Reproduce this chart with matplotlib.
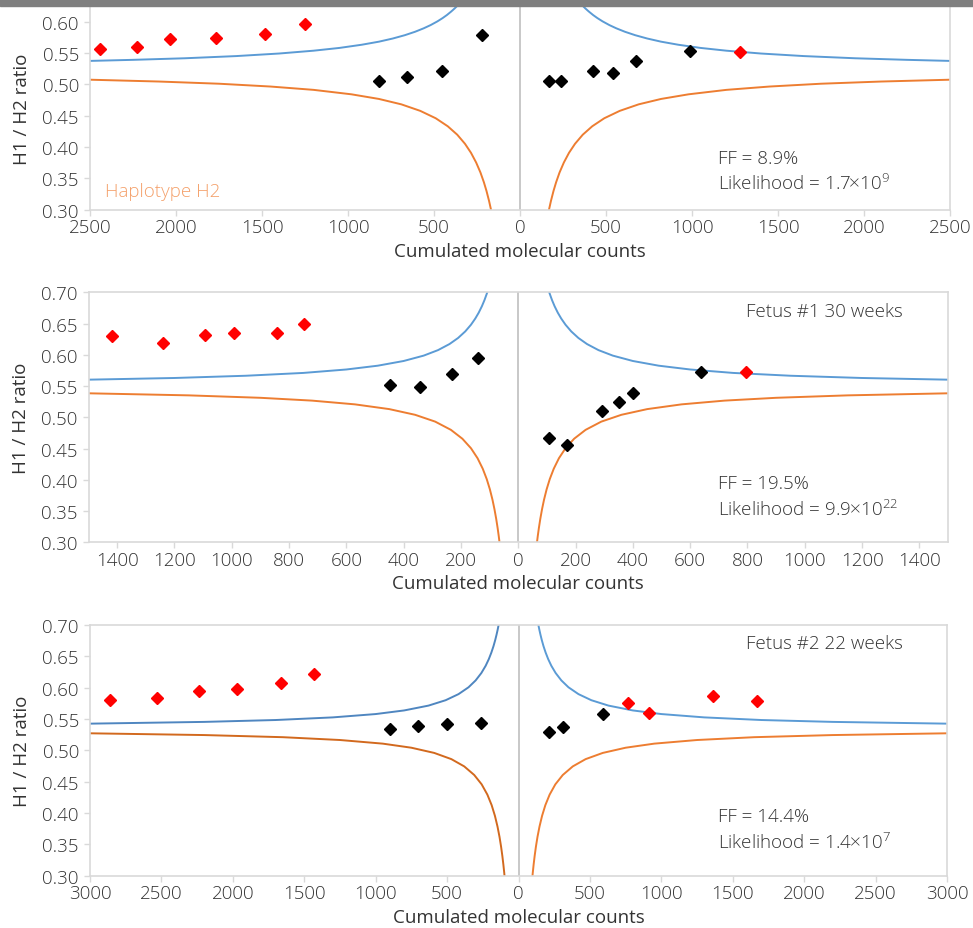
import matplotlib
matplotlib.use("Agg")
import matplotlib.pyplot as plt
from matplotlib.patches import Rectangle
from matplotlib.ticker import FuncFormatter, MultipleLocator

plt.rcParams['font.family'] = ['Open Sans', 'DejaVu Sans']
plt.rcParams['font.weight'] = 'light'
plt.rcParams['mathtext.fontset'] = 'custom'
plt.rcParams['mathtext.rm'] = 'Open Sans:light'
plt.rcParams['mathtext.it'] = 'Open Sans:light'

# ---------------- data ----------------
# Panel 1 (FF 8.9%)
p1_red_x = [-2441, -2229, -2032, -1765, -1481, -1251, 1279]
p1_red_y = [0.556, 0.560, 0.573, 0.574, 0.581, 0.597, 0.551]
p1_black_x = [-821, -659, -454, -222, 170, 239, 425, 543, 676, 991]
p1_black_y = [0.506, 0.512, 0.522, 0.579, 0.505, 0.505, 0.522, 0.518, 0.537, 0.553]
p1_upper_n = [362, 380, 400, 425, 450, 480, 520, 560, 610, 670, 740, 820, 920, 1050,
              1200, 1400, 1650, 1950, 2250, 2500]
p1_upper_v = [0.626, 0.6211, 0.6162, 0.6106, 0.6057, 0.6005, 0.5945, 0.5894, 0.5839,
              0.5784, 0.5731, 0.5681, 0.5632, 0.5581, 0.5537, 0.5492, 0.5451, 0.5416,
              0.5391, 0.5374]
p1_lower_n = [160, 170, 180, 195, 210, 230, 255, 285, 320, 365, 420, 490, 580, 690, 820,
              980, 1200, 1450, 1750, 2100, 2500]
p1_lower_v = [0.288, 0.3018, 0.3141, 0.3301, 0.3438, 0.3594, 0.3753, 0.3908, 0.4052,
              0.4197, 0.4331, 0.4459, 0.4577, 0.4681, 0.4767, 0.4841, 0.4912, 0.4965,
              0.5010, 0.5045, 0.5074]

# Panel 2 (Fetus #1, FF 19.5%)
p2_red_x = [-1417, -1239, -1095, -993, -843, -748, 794]
p2_red_y = [0.630, 0.619, 0.632, 0.635, 0.635, 0.649, 0.572]
p2_black_x = [-448, -344, -232, -139, 108, 170, 291, 350, 401, 638]
p2_black_y = [0.552, 0.549, 0.569, 0.595, 0.467, 0.456, 0.510, 0.525, 0.539, 0.572]
p2_upper_n = [105, 110, 118, 127, 138, 150, 165, 185, 210, 240, 280, 330, 400, 490, 600,
              750, 950, 1200, 1500]
p2_upper_v = [0.7045, 0.6975, 0.6874, 0.6776, 0.6674, 0.658, 0.6481, 0.6374, 0.6269,
              0.6172, 0.6075, 0.5987, 0.5901, 0.5826, 0.5765, 0.571, 0.5665, 0.5629, 0.5602]
p2_lower_n = [65, 68, 72, 77, 83, 90, 99, 110, 124, 142, 165, 195, 235, 290, 360, 450,
              570, 720, 900, 1150, 1500]
p2_lower_v = [0.2985, 0.3096, 0.3229, 0.3376, 0.3529, 0.3682, 0.3847, 0.4011, 0.4178,
              0.4345, 0.4505, 0.4657, 0.4799, 0.4931, 0.504, 0.5131, 0.5207, 0.5267,
              0.5312, 0.5351, 0.5384]

# Panel 3 (Fetus #2, FF 14.4%)
p3_red_x = [-2857, -2528, -2234, -1970, -1662, -1429, 764, 915, 1359, 1671]
p3_red_y = [0.580, 0.584, 0.594, 0.598, 0.607, 0.622, 0.575, 0.559, 0.586, 0.579]
p3_black_x = [-899, -703, -502, -265, 211, 314, 594]
p3_black_y = [0.534, 0.539, 0.542, 0.544, 0.529, 0.537, 0.558]
p3_upper_n = [135, 140, 146, 154, 163, 175, 190, 208, 230, 260, 300, 350, 420, 510, 630,
              800, 1000, 1300, 1700, 2200, 3000]
p3_upper_v = [0.7053, 0.6992, 0.6924, 0.6843, 0.676, 0.6663, 0.656, 0.6455, 0.6349,
              0.6234, 0.6116, 0.6006, 0.5897, 0.58, 0.5714, 0.5637, 0.5579, 0.5526,
              0.5484, 0.5454, 0.5426]
p3_lower_n = [95, 100, 106, 113, 122, 133, 147, 165, 188, 218, 258, 310, 380, 470, 590,
              750, 950, 1250, 1650, 2200, 3000]
p3_lower_v = [0.2928, 0.3049, 0.3179, 0.3314, 0.3464, 0.362, 0.3784, 0.3955, 0.4126,
              0.4294, 0.4458, 0.4607, 0.4744, 0.486, 0.4959, 0.5042, 0.5107, 0.5165,
              0.521, 0.5244, 0.5272]

y_ticks = [0.30, 0.35, 0.40, 0.45, 0.50, 0.55, 0.60, 0.65, 0.70]

# ---------------- figure ----------------
W, H = 973, 929
fig = plt.figure(figsize=(W / 100, H / 100), dpi=100)
fig.patches.append(Rectangle((0, 1 - 7 / H), 1, 7 / H, transform=fig.transFigure,
                             color='#7f7f7f', zorder=10))

TXT = '#333333'
SPINE = '#d9d9d9'
BLUE = '#5b9bd5'
ORANGE = '#ed7d31'


def ax_rect(l, r, t, b):
    return [l / W, 1 - b / H, (r - l) / W, (b - t) / H]


def panel(rect, xmax, xstep, ytop, red_x, red_y, blk_x, blk_y,
          up_n, up_v, lo_n, lo_v, top_spine=True, left_colors=None):
    ax = fig.add_axes(rect)
    ax.set_xlim(-xmax, xmax)
    ax.set_ylim(0.30, ytop)
    ax.axvline(0, color='#bfbfbf', lw=1.2, zorder=1)
    lc = left_colors or (BLUE, ORANGE)
    ax.plot(up_n, up_v, color=BLUE, lw=1.4, zorder=2)
    ax.plot(lo_n, lo_v, color=ORANGE, lw=1.4, zorder=2)
    ax.plot([-n for n in up_n], up_v, color=lc[0], lw=1.4, zorder=2)
    ax.plot([-n for n in lo_n], lo_v, color=lc[1], lw=1.4, zorder=2)
    ax.plot(blk_x, blk_y, 'D', color='black', ms=6, zorder=3)
    ax.plot(red_x, red_y, 'D', color='#ff0000', ms=6, zorder=3)
    ax.set_yticks([t for t in y_ticks if t <= ytop + 1e-9])
    ax.yaxis.set_major_formatter(FuncFormatter(lambda v, p: f"{v:.2f}"))
    ax.xaxis.set_major_locator(MultipleLocator(xstep))
    ax.xaxis.set_major_formatter(FuncFormatter(lambda v, p: f"{abs(int(round(v)))}"))
    for s in ax.spines.values():
        s.set_color(SPINE)
        s.set_linewidth(1.2)
    ax.spines['top'].set_visible(top_spine)
    ax.tick_params(axis='both', colors=SPINE, labelcolor=TXT, labelsize=13.5,
                   length=4, width=1.0, direction='out')
    ax.tick_params(axis='x', pad=2)
    ax.tick_params(axis='y', pad=4)
    ax.set_xlabel('Cumulated molecular counts', fontsize=13.5, color=TXT, labelpad=4)
    ax.set_ylabel('H1 / H2 ratio', fontsize=13.5, color=TXT, labelpad=8)
    return ax


ax1 = panel(ax_rect(90, 950, 7, 210.7), 2500, 500, 0.625,
            p1_red_x, p1_red_y, p1_black_x, p1_black_y,
            p1_upper_n, p1_upper_v, p1_lower_n, p1_lower_v, top_spine=False)
ax2 = panel(ax_rect(88.5, 948, 293.3, 543.3), 1500, 200, 0.70,
            p2_red_x, p2_red_y, p2_black_x, p2_black_y,
            p2_upper_n, p2_upper_v, p2_lower_n, p2_lower_v)
ax3 = panel(ax_rect(90, 947, 626, 876.7), 3000, 500, 0.70,
            p3_red_x, p3_red_y, p3_black_x, p3_black_y,
            p3_upper_n, p3_upper_v, p3_lower_n, p3_lower_v,
            left_colors=('#4f86c0', '#d2691e'))


def ftext(x, y, s, color=TXT):
    fig.text(x / W, 1 - y / H, s, va='center', ha='left', fontsize=13.5, color=color)


ftext(105, 192, 'Haplotype H2', color='#f4a06a')
ftext(718, 159, 'FF = 8.9%')
ftext(718, 184, r'Likelihood = 1.7×10$^{9}$')
ftext(746, 311.7, 'Fetus #1 30 weeks')
ftext(718, 484, 'FF = 19.5%')
ftext(718, 510, r'Likelihood = 9.9×10$^{22}$')
ftext(746, 644, 'Fetus #2 22 weeks')
ftext(718, 817, 'FF = 14.4%')
ftext(718, 843, r'Likelihood = 1.4×10$^{7}$')

fig.savefig('out.png', dpi=100, facecolor='white')
